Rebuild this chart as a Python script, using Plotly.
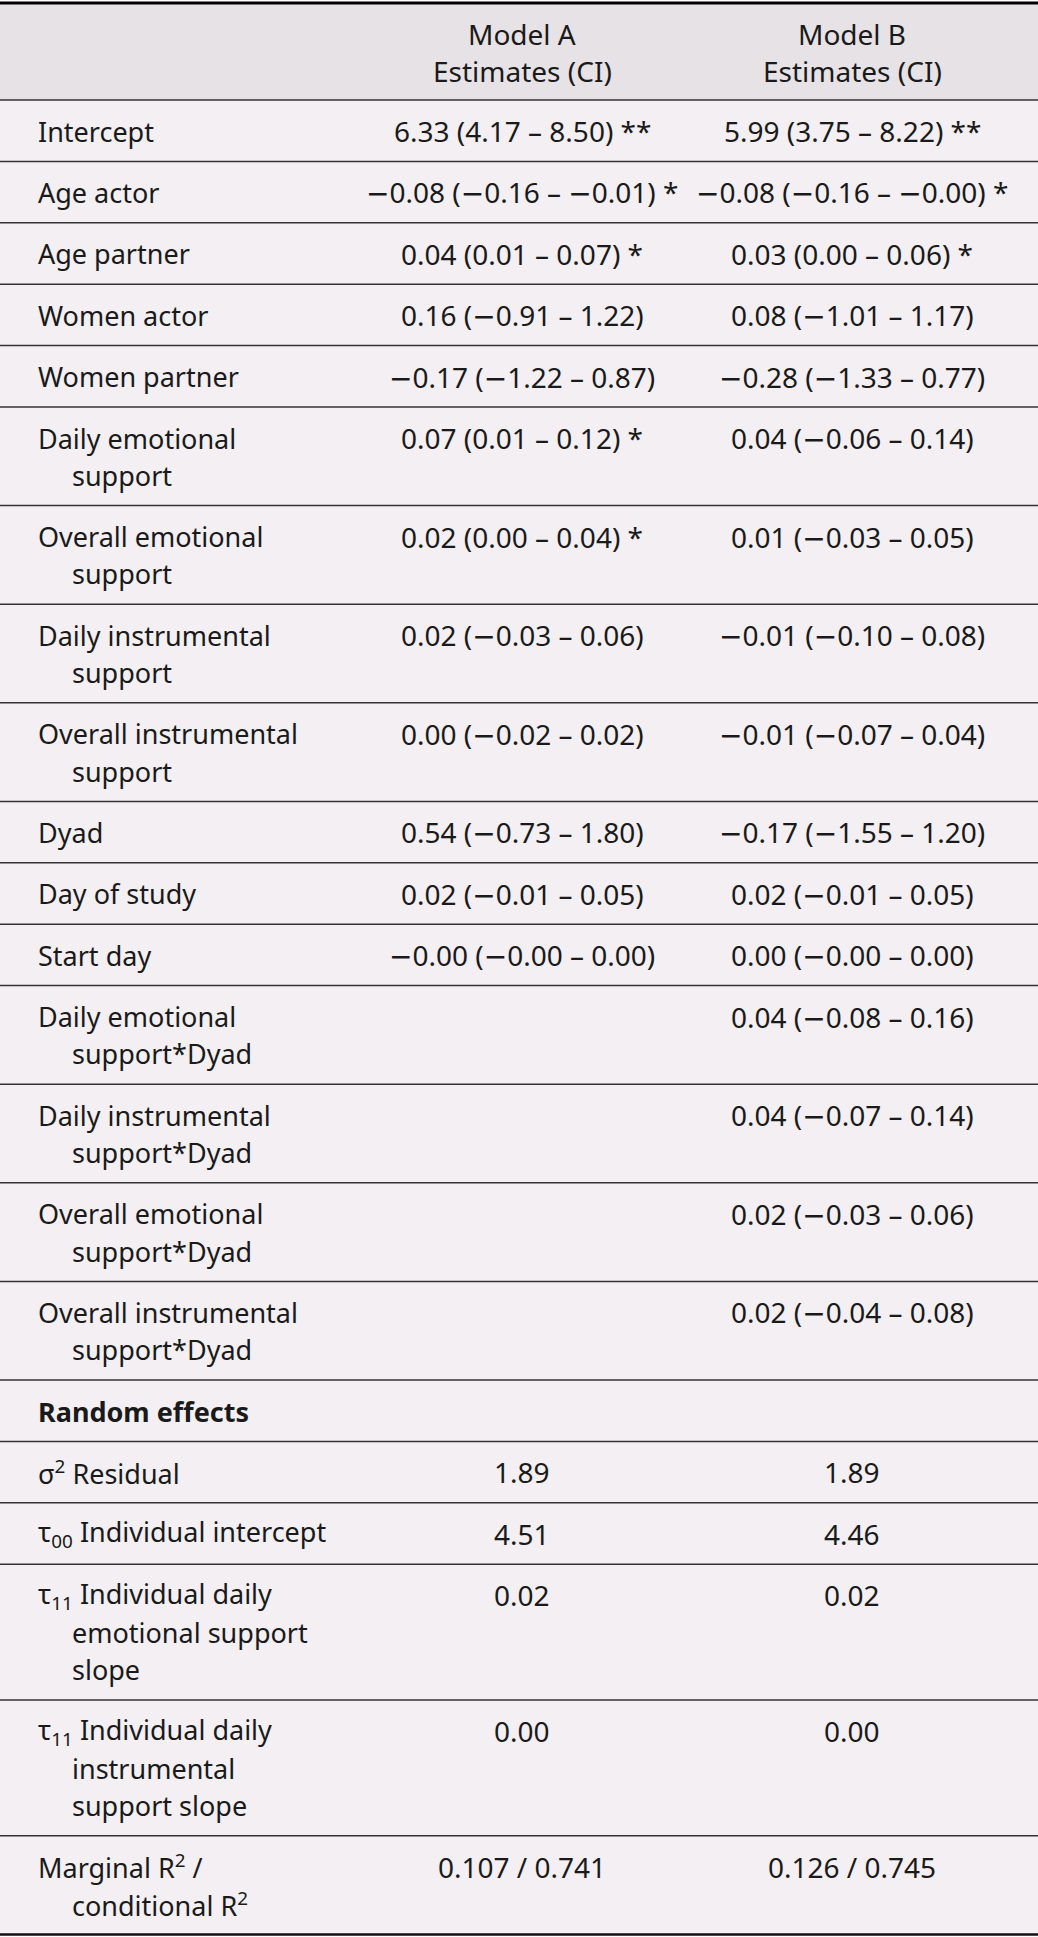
import plotly.graph_objects as go

# ---------- Table content ----------
COLUMN_TITLES = ["Model A<br>Estimates (CI)", "Model B<br>Estimates (CI)"]

ROW_LABELS = [
    "Intercept",
    "Age actor",
    "Age partner",
    "Women actor",
    "Women partner",
    "Daily emotional<br>support",
    "Overall emotional<br>support",
    "Daily instrumental<br>support",
    "Overall instrumental<br>support",
    "Dyad",
    "Day of study",
    "Start day",
    "Daily emotional<br>support*Dyad",
    "Daily instrumental<br>support*Dyad",
    "Overall emotional<br>support*Dyad",
    "Overall instrumental<br>support*Dyad",
    "Random effects",
    "σ<sup>2</sup> Residual",
    "τ<sub>00</sub> Individual intercept",
    "τ<sub>11</sub> Individual daily<br>emotional support<br>slope",
    "τ<sub>11</sub> Individual daily<br>instrumental<br>support slope",
    "Marginal R<sup>2</sup> /<br>conditional R<sup>2</sup>",
]

MODEL_A = [
    "6.33 (4.17 – 8.50) **",
    "−0.08 (−0.16 – −0.01) *",
    "0.04 (0.01 – 0.07) *",
    "0.16 (−0.91 – 1.22)",
    "−0.17 (−1.22 – 0.87)",
    "0.07 (0.01 – 0.12) *",
    "0.02 (0.00 – 0.04) *",
    "0.02 (−0.03 – 0.06)",
    "0.00 (−0.02 – 0.02)",
    "0.54 (−0.73 – 1.80)",
    "0.02 (−0.01 – 0.05)",
    "−0.00 (−0.00 – 0.00)",
    "",
    "",
    "",
    "",
    "",
    "1.89",
    "4.51",
    "0.02",
    "0.00",
    "0.107 / 0.741",
]

MODEL_B = [
    "5.99 (3.75 – 8.22) **",
    "−0.08 (−0.16 – −0.00) *",
    "0.03 (0.00 – 0.06) *",
    "0.08 (−1.01 – 1.17)",
    "−0.28 (−1.33 – 0.77)",
    "0.04 (−0.06 – 0.14)",
    "0.01 (−0.03 – 0.05)",
    "−0.01 (−0.10 – 0.08)",
    "−0.01 (−0.07 – 0.04)",
    "−0.17 (−1.55 – 1.20)",
    "0.02 (−0.01 – 0.05)",
    "0.00 (−0.00 – 0.00)",
    "0.04 (−0.08 – 0.16)",
    "0.04 (−0.07 – 0.14)",
    "0.02 (−0.03 – 0.06)",
    "0.02 (−0.04 – 0.08)",
    "",
    "1.89",
    "4.46",
    "0.02",
    "0.00",
    "0.126 / 0.745",
]

SECTION_ROWS = ["Random effects"]

# ---------- Layout settings ----------
W, H = 1038, 1937
FONT = "Noto Sans"
FONT_SIZE = 28
LABEL_SIZE = 27
TEXT_COLOR = "#1a1a1a"
HEADER_BG = "#e7e2e5"
BODY_BG = "#f3eff2"
RULE_COLOR = "#333333"

TOP = 3
HEADER_BOTTOM = 100
LINE_STEP = 37.2      # distance between wrapped lines
ROW_PAD = 24.2        # row height = ROW_PAD + LINE_STEP * lines
TEXT_OFFSET = 31      # first text line centre below row top
LABEL_X = 36
INDENT_X = 70
COL_X = [522, 852]

# the source typesets the minus sign wider than Noto's own glyph
WIDE_MINUS = "<span style='font-family:DejaVu Sans'>−</span>"

annotations = []
shapes = []


def add_text(x, y, text, anchor, size=FONT_SIZE, bold=False):
    annotations.append(dict(
        x=x, y=y, xref="x", yref="y", text=f"<b>{text}</b>" if bold else text,
        showarrow=False, xanchor=anchor, yanchor="middle", align="left",
        font=dict(family=FONT, size=size, color=TEXT_COLOR),
    ))


# ---------- Header ----------
for cx, title in zip(COL_X, COLUMN_TITLES):
    for k, part in enumerate(title.split("<br>")):
        add_text(cx, TOP + TEXT_OFFSET + k * LINE_STEP, part, "center")

# ---------- Body rows ----------
row_bounds = []
y = HEADER_BOTTOM
for label, a, b in zip(ROW_LABELS, MODEL_A, MODEL_B):
    parts = label.split("<br>")
    h = ROW_PAD + LINE_STEP * len(parts)
    for k, part in enumerate(parts):
        add_text(LABEL_X if k == 0 else INDENT_X, y + TEXT_OFFSET + k * LINE_STEP,
                 part, "left", size=LABEL_SIZE, bold=label in SECTION_ROWS)
    for cx, val in zip(COL_X, [a, b]):
        if val:
            add_text(cx, y + TEXT_OFFSET, val.replace("−", WIDE_MINUS), "center")
    y += h
    row_bounds.append(y)

bottom = row_bounds[-1]

# backgrounds
shapes.append(dict(type="rect", xref="x", yref="y", x0=0, x1=W, y0=TOP, y1=HEADER_BOTTOM,
                   fillcolor=HEADER_BG, line=dict(width=0), layer="below"))
shapes.append(dict(type="rect", xref="x", yref="y", x0=0, x1=W, y0=HEADER_BOTTOM, y1=bottom,
                   fillcolor=BODY_BG, line=dict(width=0), layer="below"))

# rules
shapes.append(dict(type="line", xref="x", yref="y", x0=0, x1=W, y0=TOP, y1=TOP,
                   line=dict(color="#000000", width=3)))
for yb in [HEADER_BOTTOM] + row_bounds[:-1]:
    shapes.append(dict(type="line", xref="x", yref="y", x0=0, x1=W, y0=yb, y1=yb,
                       line=dict(color=RULE_COLOR, width=1.5)))
shapes.append(dict(type="line", xref="x", yref="y", x0=0, x1=W, y0=bottom, y1=bottom,
                   line=dict(color="#111111", width=2.5)))

fig = go.Figure()
fig.update_layout(
    width=W, height=H,
    margin=dict(l=0, r=0, t=0, b=0),
    paper_bgcolor="white", plot_bgcolor="white",
    xaxis=dict(range=[0, W], visible=False, fixedrange=True),
    yaxis=dict(range=[H, 0], visible=False, fixedrange=True),
    showlegend=False,
    annotations=annotations,
    shapes=shapes,
)

# drop the default page margin so the table sits flush with the window
fig.write_html("out.html", config={"displayModeBar": False},
               post_script="document.body.style.margin='0';")
